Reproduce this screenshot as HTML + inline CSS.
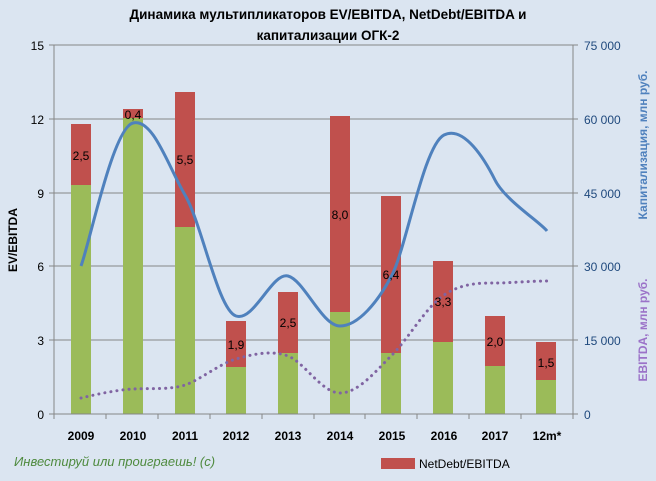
<!DOCTYPE html>
<html><head><meta charset="utf-8"><style>
html,body{margin:0;padding:0;background:#dbe5f1;}
svg{display:block;font-family:"Liberation Sans","DejaVu Sans",sans-serif;}
</style></head><body>
<svg width="656" height="481" viewBox="0 0 656 481" xmlns="http://www.w3.org/2000/svg">
<rect width="656" height="481" fill="#dbe5f1"/>
<text x="328" y="19" text-anchor="middle" font-size="13.5" font-weight="bold" fill="#000">Динамика мультипликаторов EV/EBITDA, NetDebt/EBITDA и</text>
<text x="328" y="40" text-anchor="middle" font-size="13.5" font-weight="bold" fill="#000">капитализации ОГК-2</text>
<g stroke="#868686" stroke-width="1">
<line x1="54" y1="45" x2="573" y2="45"/>
<line x1="54" y1="119" x2="573" y2="119"/>
<line x1="54" y1="193" x2="573" y2="193"/>
<line x1="54" y1="266" x2="573" y2="266"/>
<line x1="54" y1="340" x2="573" y2="340"/>
<line x1="54" y1="45" x2="54" y2="414"/>
<line x1="573" y1="45" x2="573" y2="414"/>
<line x1="49" y1="45" x2="54" y2="45"/><line x1="49" y1="119" x2="54" y2="119"/><line x1="49" y1="193" x2="54" y2="193"/><line x1="49" y1="266" x2="54" y2="266"/><line x1="49" y1="340" x2="54" y2="340"/><line x1="49" y1="414" x2="54" y2="414"/>
<line x1="573" y1="45" x2="578" y2="45"/><line x1="573" y1="119" x2="578" y2="119"/><line x1="573" y1="193" x2="578" y2="193"/><line x1="573" y1="266" x2="578" y2="266"/><line x1="573" y1="340" x2="578" y2="340"/><line x1="573" y1="414" x2="578" y2="414"/>
</g>
<g font-size="12" fill="#000" text-anchor="end">
<text x="44" y="50">15</text><text x="44" y="124">12</text><text x="44" y="198">9</text><text x="44" y="271">6</text><text x="44" y="345">3</text><text x="44" y="419">0</text>
</g>
<g font-size="12" fill="#1f497d">
<text x="584" y="50">75 000</text><text x="584" y="124">60 000</text><text x="584" y="198">45 000</text><text x="584" y="271">30 000</text><text x="584" y="345">15 000</text><text x="584" y="419">0</text>
</g>
<text transform="translate(17,240) rotate(-90)" text-anchor="middle" font-size="12" font-weight="bold">EV/EBITDA</text>
<text transform="translate(647,145) rotate(-90)" text-anchor="middle" font-size="12" font-weight="bold" fill="#4f81bd">Капитализация, млн руб.</text>
<text transform="translate(647,330) rotate(-90)" text-anchor="middle" font-size="12" font-weight="bold" fill="#9b72c8">EBITDA, млн руб.</text>
<g fill="#9bbb59">
<rect x="71" y="185" width="20" height="229"/>
<rect x="123" y="118" width="20" height="296"/>
<rect x="175" y="227" width="20" height="187"/>
<rect x="226" y="367" width="20" height="47"/>
<rect x="278" y="353" width="20" height="61"/>
<rect x="330" y="312" width="20" height="102"/>
<rect x="381" y="353" width="20" height="61"/>
<rect x="433" y="342" width="20" height="72"/>
<rect x="485" y="366" width="20" height="48"/>
<rect x="536" y="380" width="20" height="34"/>
</g>
<g fill="#c0504d">
<rect x="71" y="124" width="20" height="61"/>
<rect x="123" y="109" width="20" height="9"/>
<rect x="175" y="92" width="20" height="135"/>
<rect x="226" y="321" width="20" height="46"/>
<rect x="278" y="292" width="20" height="61"/>
<rect x="330" y="116" width="20" height="196"/>
<rect x="381" y="196" width="20" height="157"/>
<rect x="433" y="261" width="20" height="81"/>
<rect x="485" y="316" width="20" height="50"/>
<rect x="536" y="342" width="20" height="38"/>
</g>
<g stroke="#868686"><line x1="54" y1="414" x2="573" y2="414"/>
<line x1="54" y1="414" x2="54" y2="419"/><line x1="106" y1="414" x2="106" y2="419"/><line x1="158" y1="414" x2="158" y2="419"/><line x1="210" y1="414" x2="210" y2="419"/><line x1="262" y1="414" x2="262" y2="419"/><line x1="314" y1="414" x2="314" y2="419"/><line x1="365" y1="414" x2="365" y2="419"/><line x1="417" y1="414" x2="417" y2="419"/><line x1="469" y1="414" x2="469" y2="419"/><line x1="521" y1="414" x2="521" y2="419"/><line x1="573" y1="414" x2="573" y2="419"/></g>
<path d="M81,266 C90,242 113,128 133,123 C153,118 168,166 185,195 C202,224 218,310 236,316 C254,322 272,272 288,276 C304,280 322,326 340,326 C358,326 378,302 392,275 C406,248 424,145 444,135 C464,125 485,160 495,180 C505,200 540,222 547,231" fill="none" stroke="#4f81bd" stroke-width="3"/>
<path d="M81,398 C98,394 116,390 133,389 C150,388 170,390 185,385 C200,380 219,364 236,359 C253,354 272,350 288,356 C304,362 322,393 340,393 C358,393 375,372 392,355 C409,338 426,307 444,295 C462,283 480,283 495,283 C510,283 530,281 547,281" fill="none" stroke="#8064a2" stroke-width="3" stroke-dasharray="0.1,6" stroke-linecap="round"/>
<g font-size="12" text-anchor="middle" fill="#000">
<text x="81" y="160">2,5</text><text x="133" y="119">0,4</text><text x="185" y="164">5,5</text><text x="236" y="349">1,9</text><text x="288" y="327">2,5</text><text x="340" y="219">8,0</text><text x="391" y="279">6,4</text><text x="443" y="306">3,3</text><text x="495" y="346">2,0</text><text x="546" y="367">1,5</text>
</g>
<g font-size="12" font-weight="bold" text-anchor="middle" fill="#000">
<text x="81" y="440">2009</text><text x="133" y="440">2010</text><text x="185" y="440">2011</text><text x="236" y="440">2012</text><text x="288" y="440">2013</text><text x="340" y="440">2014</text><text x="392" y="440">2015</text><text x="444" y="440">2016</text><text x="495" y="440">2017</text><text x="547" y="440">12m*</text>
</g>
<text x="14" y="466" font-size="13" font-style="italic" fill="#4e8a3e">Инвестируй или проиграешь! (с)</text>
<rect x="381" y="458" width="34" height="11" fill="#c0504d"/>
<text x="419" y="468" font-size="12">NetDebt/EBITDA</text>
</svg>
</body></html>
